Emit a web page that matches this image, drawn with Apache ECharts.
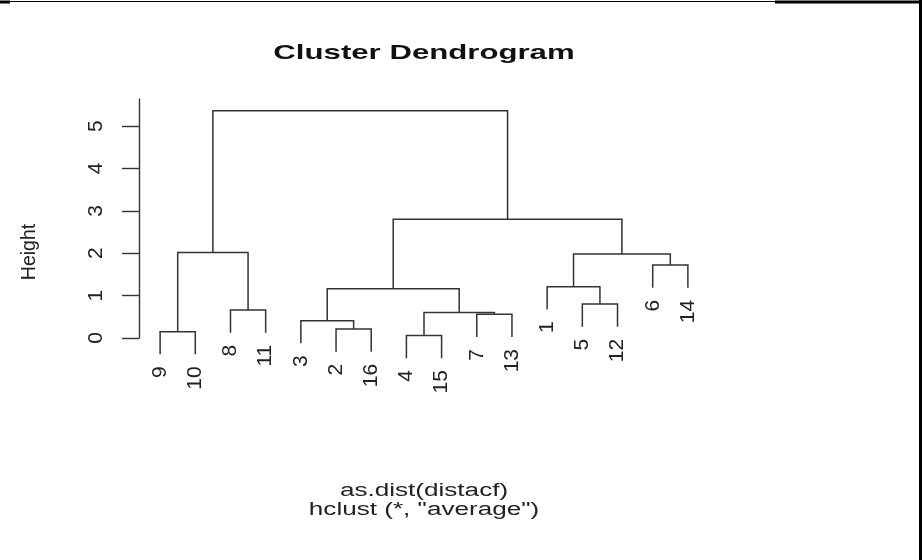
<!DOCTYPE html>
<html>
<head>
<meta charset="utf-8">
<script src="https://cdn.jsdelivr.net/npm/echarts@6/dist/echarts.min.js"></script>
<style>
  html, body { margin: 0; padding: 0; background: #fff; }
  #chart { width: 922px; height: 560px; }
</style>
</head>
<body>
<div id="chart"></div>
<script>
// Leaf order along the x axis (left to right)
const leafOrder = ['9', '10', '8', '11', '3', '2', '16', '4', '15', '7', '13', '1', '5', '12', '6', '14'];

// Merge steps: strings are leaves, numbers point to an earlier merge
const mergePairs = [
    ['4', '15'],
    ['9', '10'],
    ['2', '16'],
    ['3', 2],
    ['7', '13'],
    [0, 4],
    ['8', '11'],
    ['5', '12'],
    [3, 5],
    ['1', 7],
    ['6', '14'],
    [9, 10],
    [1, 6],
    [8, 11],
    [12, 13]
];
const mergeHeights = [0.06, 0.15, 0.21, 0.41, 0.56, 0.60, 0.66, 0.80, 1.16, 1.21, 1.72, 1.98, 2.02, 2.80, 5.36];

const yTicks = [0, 1, 2, 3, 4, 5];

const titleText = 'Cluster Dendrogram';
const subLines = ['as.dist(distacf)', 'hclust (*, "average")'];
const yName = 'Height';

// hang of leaves below their merge, as in R's plot.hclust
const hang = 0.1 * Math.max(...mergeHeights);

// positions of nodes (leaf index 1..n, merge = midpoint of children)
const nodeX = [];
function childX(c) {
    return typeof c === 'string' ? leafOrder.indexOf(c) + 1 : nodeX[c];
}
function childTop(c, h) {
    return typeof c === 'string' ? h - hang : mergeHeights[c];
}
const segments = mergePairs.map((pair, i) => {
    const h = mergeHeights[i];
    const xl = childX(pair[0]);
    const xr = childX(pair[1]);
    nodeX[i] = (xl + xr) / 2;
    return [xl, childTop(pair[0], h), xr, childTop(pair[1], h), h];
});

// where each leaf ends (for its label)
const leafEnds = [];
mergePairs.forEach((pair, i) => {
    pair.forEach(c => {
        if (typeof c === 'string') {
            leafEnds.push({ name: c, value: [leafOrder.indexOf(c) + 1, mergeHeights[i] - hang] });
        }
    });
});

const chart = echarts.init(document.getElementById('chart'));
const font = 'Liberation Sans, Arial, Helvetica, sans-serif';

const option = {
    backgroundColor: '#fff',
    animation: false,
    grid: { left: 139, top: 99, width: 570, height: 239 },
    xAxis: { type: 'value', min: 0.4, max: 16.6, show: false },
    yAxis: {
        type: 'value',
        min: 0,
        max: 5.64,
        interval: 1,
        splitLine: { show: false },
        axisLine: { show: true, lineStyle: { color: '#333', width: 1.4 } },
        axisTick: { show: true, length: 17, customValues: yTicks, lineStyle: { color: '#333', width: 1.4 } },
        axisLabel: {
            customValues: yTicks,
            rotate: 90,
            margin: 32,
            fontSize: 21,
            color: '#222',
            fontFamily: font
        }
    },
    graphic: [
        { type: 'line', shape: { x1: 0, y1: 1.5, x2: 922, y2: 1.5 }, style: { stroke: '#000', lineWidth: 1 } },
        { type: 'line', shape: { x1: 0, y1: 2, x2: 10, y2: 2 }, style: { stroke: '#000', lineWidth: 3 } },
        { type: 'line', shape: { x1: 775, y1: 2, x2: 922, y2: 2 }, style: { stroke: '#000', lineWidth: 3 } },
        { type: 'line', shape: { x1: 920.5, y1: 0, x2: 920.5, y2: 560 }, style: { stroke: '#000', lineWidth: 3 } },
        {
            type: 'text', x: 424, y: 53, scaleX: 1.52,
            style: { text: titleText, font: 'bold 20.5px ' + font, fill: '#111', textAlign: 'center', textVerticalAlign: 'middle' }
        },
        {
            type: 'text', x: 424, y: 491, scaleX: 1.45,
            style: { text: subLines[0], font: '18px ' + font, fill: '#222', textAlign: 'center', textVerticalAlign: 'middle' }
        },
        {
            type: 'text', x: 424, y: 510, scaleX: 1.45,
            style: { text: subLines[1], font: '18px ' + font, fill: '#222', textAlign: 'center', textVerticalAlign: 'middle' }
        },
        {
            type: 'text', x: 30, y: 252, rotation: Math.PI / 2,
            style: { text: yName, font: '19.5px ' + font, fill: '#222', textAlign: 'center', textVerticalAlign: 'middle' }
        }
    ],
    series: [
        {
            type: 'custom',
            clip: false,
            data: segments,
            renderItem: (params, api) => {
                const a = api.coord([api.value(0), api.value(1)]);
                const b = api.coord([api.value(0), api.value(4)]);
                const c = api.coord([api.value(2), api.value(4)]);
                const d = api.coord([api.value(2), api.value(3)]);
                return {
                    type: 'polyline',
                    shape: { points: [a, b, c, d] },
                    style: { stroke: '#333', lineWidth: 1.5, fill: null }
                };
            }
        },
        {
            type: 'custom',
            clip: false,
            data: leafEnds,
            renderItem: (params, api) => {
                const p = api.coord([api.value(0), api.value(1)]);
                return {
                    type: 'text',
                    x: p[0],
                    y: p[1] + 12,
                    rotation: Math.PI / 2,
                    style: {
                        text: leafEnds[params.dataIndex].name,
                        font: '21px ' + font,
                        fill: '#222',
                        textAlign: 'right',
                        textVerticalAlign: 'middle'
                    }
                };
            }
        }
    ]
};
chart.setOption(option);
</script>
</body>
</html>
